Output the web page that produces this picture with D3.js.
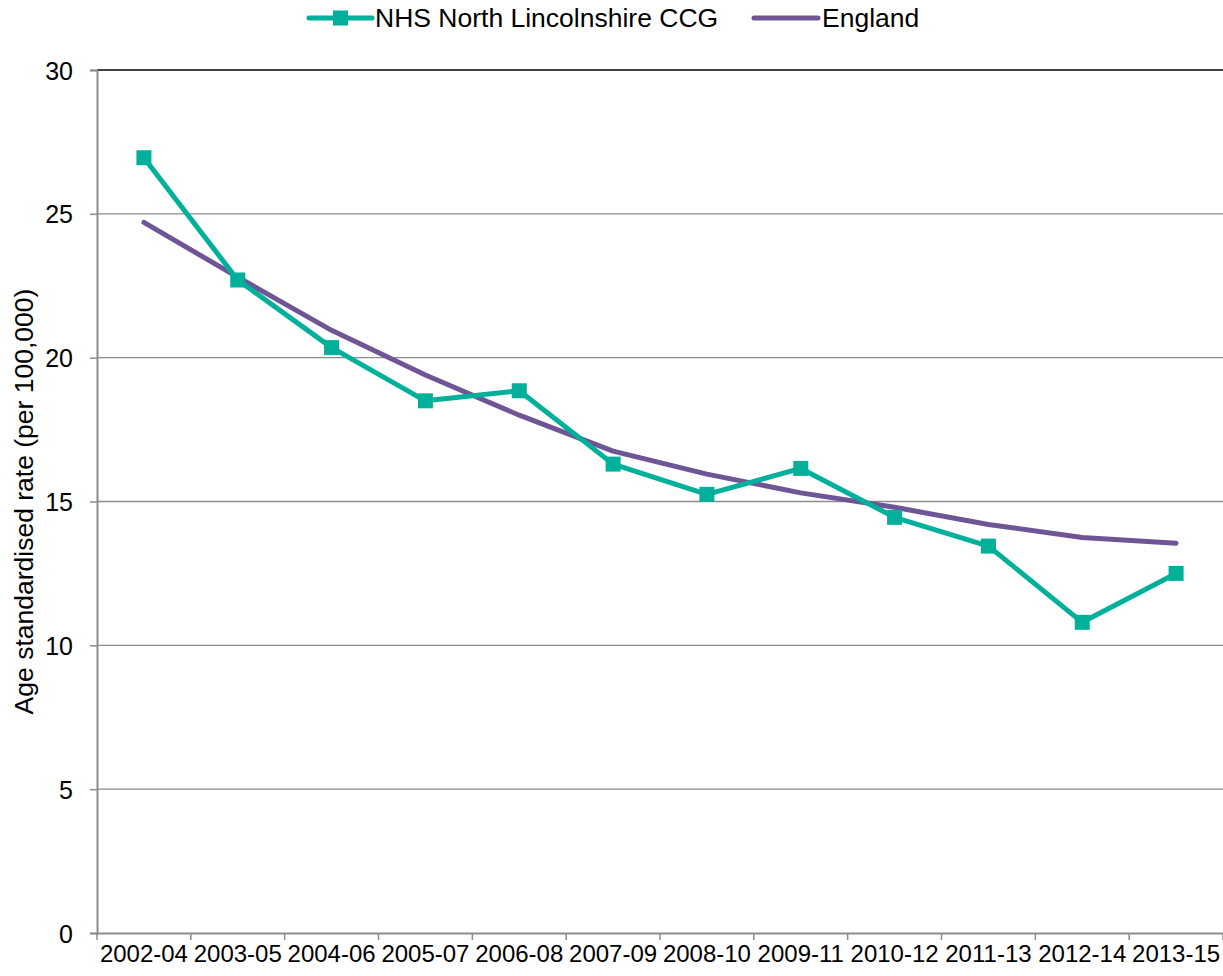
<!DOCTYPE html>
<html>
<head>
<meta charset="utf-8">
<script src="https://cdn.jsdelivr.net/npm/d3@7"></script>
<style>
  body { margin: 0; background: #fff; }
  text { font-family: "Liberation Sans", Arial, sans-serif; fill: #000; }
</style>
</head>
<body>
<div id="chart"></div>
<script>
const periods = ['2002-04', '2003-05', '2004-06', '2005-07', '2006-08', '2007-09',
  '2008-10', '2009-11', '2010-12', '2011-13', '2012-14', '2013-15'];
const ccgValues = [26.95, 22.7, 20.35, 18.5, 18.85, 16.3, 15.25, 16.15, 14.45, 13.45, 10.8, 12.5];
const englandValues = [24.7, 22.8, 20.95, 19.4, 18.0, 16.75, 15.95, 15.3, 14.8, 14.2, 13.75, 13.55];
const yTicks = [0, 5, 10, 15, 20, 25, 30];

const W = 1223, H = 976;
const margin = { top: 70, right: 0, bottom: 43, left: 97 };
const width = W - margin.left - margin.right;
const height = H - margin.top - margin.bottom;

const teal = '#00B09B';
const purple = '#6F5596';

const svg = d3.select('#chart').append('svg')
  .attr('width', W)
  .attr('height', H);

const g = svg.append('g').attr('transform', 'translate(' + margin.left + ',' + margin.top + ')');

const x = d3.scaleBand().domain(periods).range([0, width]);
const y = d3.scaleLinear().domain([0, 30]).range([height, 0]);
const cx = d => x(d) + x.bandwidth() / 2;

// gridlines
g.append('g')
  .selectAll('line')
  .data(yTicks.filter(t => t > 0))
  .enter().append('line')
    .attr('x1', 0)
    .attr('x2', width)
    .attr('y1', d => y(d))
    .attr('y2', d => y(d))
    .attr('stroke', d => d === 30 ? '#000' : '#8c8c8c')
    .attr('stroke-width', 1.3);

// y axis
const yAxis = g.append('g')
  .call(d3.axisLeft(y).tickValues(yTicks).tickSize(7).tickPadding(17));
yAxis.attr('font-family', null).attr('font-size', null);
yAxis.select('.domain').attr('stroke', '#8c8c8c').attr('stroke-width', 2);
yAxis.selectAll('.tick line').attr('stroke', '#8c8c8c').attr('stroke-width', 1.5);
yAxis.selectAll('.tick text').attr('font-size', 25).attr('dy', '0.36em');

// x axis
const xAxis = g.append('g')
  .attr('transform', 'translate(0,' + height + ')')
  .call(d3.axisBottom(x).tickSize(0).tickPadding(12));
xAxis.attr('font-family', null).attr('font-size', null);
xAxis.select('.domain').attr('stroke', '#8c8c8c').attr('stroke-width', 2);
xAxis.selectAll('.tick text').attr('font-size', 24).attr('dy', '0.71em');

// category boundary ticks
xAxis.append('g')
  .selectAll('line')
  .data(periods.map(p => x(p)).concat([width]))
  .enter().append('line')
    .attr('x1', d => d)
    .attr('x2', d => d)
    .attr('y1', 0)
    .attr('y2', 7)
    .attr('stroke', '#8c8c8c')
    .attr('stroke-width', 1.5);

// y axis title
svg.append('text')
  .attr('transform', 'translate(33,' + (margin.top + height / 2) + ') rotate(-90)')
  .attr('text-anchor', 'middle')
  .attr('font-size', 26.5)
  .text('Age standardised rate (per 100,000)');

const line = d3.line()
  .x((d, i) => cx(periods[i]))
  .y(d => y(d));

g.append('path')
  .datum(englandValues)
  .attr('fill', 'none')
  .attr('stroke', purple)
  .attr('stroke-width', 5)
  .attr('stroke-linecap', 'round')
  .attr('stroke-linejoin', 'round')
  .attr('d', line);

g.append('path')
  .datum(ccgValues)
  .attr('fill', 'none')
  .attr('stroke', teal)
  .attr('stroke-width', 5)
  .attr('stroke-linejoin', 'round')
  .attr('d', line);

g.append('g')
  .selectAll('rect')
  .data(ccgValues)
  .enter().append('rect')
    .attr('x', (d, i) => cx(periods[i]) - 7.5)
    .attr('y', d => y(d) - 7.5)
    .attr('width', 15)
    .attr('height', 15)
    .attr('fill', teal);

// legend
const legend = svg.append('g');
legend.append('line')
  .attr('x1', 309).attr('x2', 372).attr('y1', 18).attr('y2', 18)
  .attr('stroke', teal).attr('stroke-width', 5).attr('stroke-linecap', 'round');
legend.append('rect')
  .attr('x', 333).attr('y', 10.5).attr('width', 15).attr('height', 15)
  .attr('fill', teal);
legend.append('text')
  .attr('x', 375).attr('y', 27)
  .attr('font-size', 26.5)
  .text('NHS North Lincolnshire CCG');
legend.append('line')
  .attr('x1', 754).attr('x2', 818).attr('y1', 18).attr('y2', 18)
  .attr('stroke', purple).attr('stroke-width', 5).attr('stroke-linecap', 'round');
legend.append('text')
  .attr('x', 822).attr('y', 27)
  .attr('font-size', 26.5)
  .text('England');
</script>
</body>
</html>
